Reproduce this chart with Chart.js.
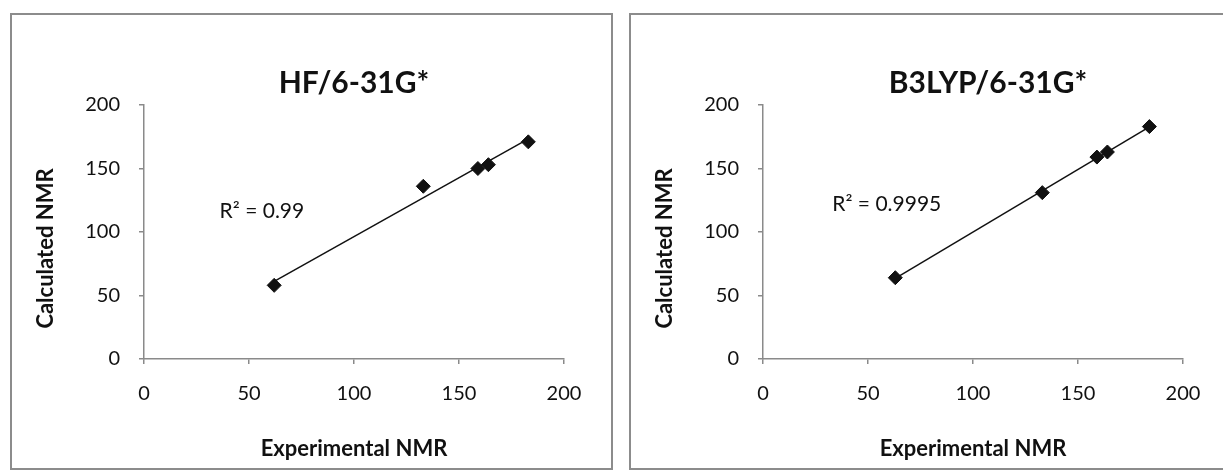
<!DOCTYPE html>
<html>
<head>
<meta charset="utf-8">
<title>Calculated vs Experimental NMR</title>
<script src="https://cdn.jsdelivr.net/npm/chart.js@4.4.1/dist/chart.umd.min.js"></script>
<style>
	body { margin:0; background:#fff; width:1223px; height:470px; overflow:hidden; position:relative; }
	.panel { position:absolute; top:13px; width:603px; height:457px; border:2px solid #8c8c8c; box-sizing:border-box; background:#fff; }
	canvas { position:absolute; top:14px; width:601px; height:454px; }
</style>
</head>
<body>
<div class="panel" style="left:10px"></div>
<div class="panel" style="left:629px"></div>
<canvas id="chartHF" width="601" height="454" style="left:11px"></canvas>
<canvas id="chartB3LYP" width="601" height="454" style="left:630px"></canvas>
<script>
// values
const expHF = [62, 133, 159, 164, 183];
const calcHF = [58, 136, 150, 153, 171];
const trendHFx = [62, 183];
const trendHFy = [61.1, 173.3];

const expB3LYP = [63, 133, 159, 164, 184];
const calcB3LYP = [64, 131, 159, 163, 183];
const trendB3LYPx = [63, 184];
const trendB3LYPy = [63.5, 182.8];

const axisTicks = [0, 50, 100, 150, 200];
const r2HF = "R\u00b2 = 0.99";
const r2B3LYP = "R\u00b2 = 0.9995";

const axisGray = '#8a8a8a';
const ink = '#111111';

// R² note, placed in data units through the chart's own scales
const r2Label = {
	id: 'r2Label',
	afterDatasetsDraw(chart, args, opts) {
		const {ctx, scales} = chart;
		ctx.save();
		ctx.font = '21px Lato';
		ctx.fillStyle = ink;
		ctx.textAlign = 'left';
		ctx.textBaseline = 'middle';
		ctx.fillText(opts.text, scales.x.getPixelForValue(opts.x), scales.y.getPixelForValue(opts.y));
		ctx.restore();
	}
};

function toPoints(xs, ys) {
	return xs.map((x, i) => ({x: x, y: ys[i]}));
}

function axis(titleText, horizontal) {
	return {
		type: 'linear',
		position: horizontal ? 'bottom' : 'left',
		min: axisTicks[0],
		max: axisTicks[axisTicks.length - 1],
		afterBuildTicks: s => { s.ticks = axisTicks.map(v => ({value: v})); },
		afterFit: s => { if (horizontal) s.height = 109; else s.width = 133; },
		ticks: {
			font: {family: 'Lato', size: 20},
			color: ink,
			padding: horizontal ? 18 : 19
		},
		grid: {
			display: true,
			drawOnChartArea: false,
			drawTicks: true,
			tickLength: 5,
			color: axisGray,
			lineWidth: 1.5
		},
		border: {display: true, color: axisGray, width: 1.5},
		title: {
			display: true,
			text: titleText,
			color: ink,
			font: {family: 'Lato', size: 22, weight: 'bold'},
			padding: horizontal ? {top: 0, bottom: 6} : {top: 22, bottom: 0}
		}
	};
}

function drawNMR(canvasId, titleText, xs, ys, tx, ty, note, noteX, noteY) {
	new Chart(document.getElementById(canvasId), {
		type: 'scatter',
		data: {
			datasets: [{
				label: 'Data',
				data: toPoints(xs, ys),
				pointStyle: 'rectRot',
				pointRadius: 7,
				backgroundColor: ink,
				borderColor: ink,
				order: 0
			},{
				label: 'Trend',
				data: toPoints(tx, ty),
				showLine: true,
				borderColor: ink,
				borderWidth: 1.5,
				pointRadius: 0,
				fill: false,
				order: 1
			}]
		},
		options: {
			responsive: false,
			animation: false,
			layout: {padding: {left: 0, right: 48, top: 0, bottom: 0}},
			scales: {
				x: axis('Experimental NMR', true),
				// trailing em spaces push the visible title a little lower, as in the original
				y: axis('Calculated NMR\u2003\u2003', false)
			},
			plugins: {
				legend: {display: false},
				tooltip: {enabled: false},
				title: {
					display: true,
					text: titleText,
					fullSize: false,
					color: ink,
					font: {family: 'Lato', size: 30, weight: 'bold'},
					padding: {top: 51.5, bottom: 3.5}
				},
				r2Label: {text: note, x: noteX, y: noteY}
			}
		},
		plugins: [r2Label]
	});
}

drawNMR('chartHF', 'HF/6-31G*', expHF, calcHF, trendHFx, trendHFy, r2HF, 36, 116);
// right-hand title sits a bit right of the plot centre in the original
drawNMR('chartB3LYP', '\u2002\u2002B3LYP/6-31G*', expB3LYP, calcB3LYP, trendB3LYPx, trendB3LYPy, r2B3LYP, 33, 121.5);
</script>
</body>
</html>
